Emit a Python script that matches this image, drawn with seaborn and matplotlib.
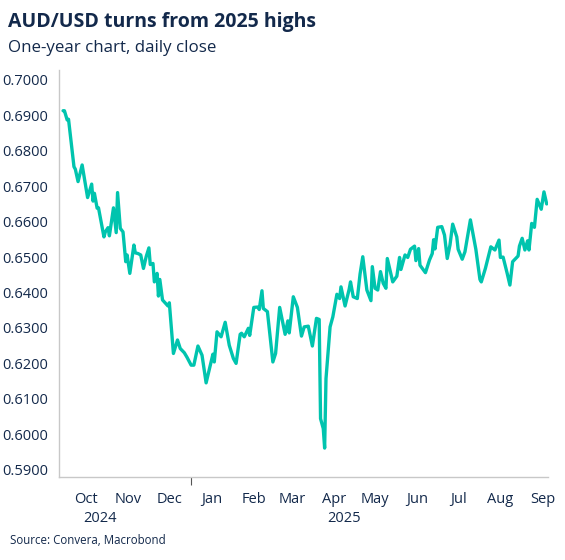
import pandas as pd
import matplotlib.pyplot as plt
import matplotlib.dates as mdates
import matplotlib.transforms as mtransforms
import seaborn as sns

# AUD/USD daily close
dates = [
    "2024-09-29", "2024-09-30", "2024-10-02", "2024-10-03", "2024-10-07", "2024-10-08",
    "2024-10-10", "2024-10-13", "2024-10-17", "2024-10-20", "2024-10-21", "2024-10-22",
    "2024-10-24", "2024-10-25", "2024-10-29", "2024-10-30", "2024-11-01", "2024-11-02",
    "2024-11-05", "2024-11-07", "2024-11-08", "2024-11-10", "2024-11-12", "2024-11-14",
    "2024-11-15", "2024-11-17", "2024-11-20", "2024-11-21", "2024-11-23", "2024-11-25",
    "2024-11-27", "2024-11-29", "2024-12-01", "2024-12-02", "2024-12-04", "2024-12-05",
    "2024-12-07", "2024-12-08", "2024-12-09", "2024-12-11", "2024-12-15", "2024-12-16",
    "2024-12-19", "2024-12-22", "2024-12-24", "2024-12-27", "2024-12-29", "2025-01-01",
    "2025-01-03", "2025-01-06", "2025-01-09", "2025-01-12", "2025-01-17", "2025-01-18",
    "2025-01-20", "2025-01-23", "2025-01-26", "2025-01-29", "2025-02-01", "2025-02-03",
    "2025-02-06", "2025-02-07", "2025-02-09", "2025-02-12", "2025-02-13", "2025-02-16",
    "2025-02-19", "2025-02-20", "2025-02-22", "2025-02-23", "2025-02-26", "2025-03-02",
    "2025-03-04", "2025-03-07", "2025-03-11", "2025-03-13", "2025-03-14", "2025-03-17",
    "2025-03-20", "2025-03-23", "2025-03-25", "2025-03-28", "2025-03-31", "2025-04-03",
    "2025-04-05", "2025-04-06", "2025-04-08", "2025-04-09", "2025-04-10", "2025-04-13",
    "2025-04-15", "2025-04-18", "2025-04-20", "2025-04-21", "2025-04-24", "2025-04-27",
    "2025-04-28", "2025-04-30", "2025-05-03", "2025-05-05", "2025-05-07", "2025-05-10",
    "2025-05-13", "2025-05-14", "2025-05-16", "2025-05-18", "2025-05-20", "2025-05-22",
    "2025-05-24", "2025-05-25", "2025-05-29", "2025-06-01", "2025-06-03", "2025-06-04",
    "2025-06-07", "2025-06-09", "2025-06-11", "2025-06-14", "2025-06-15", "2025-06-17",
    "2025-06-18", "2025-06-22", "2025-06-25", "2025-06-27", "2025-06-28", "2025-06-29",
    "2025-07-01", "2025-07-04", "2025-07-06", "2025-07-08", "2025-07-10", "2025-07-12",
    "2025-07-15", "2025-07-16", "2025-07-19", "2025-07-21", "2025-07-25", "2025-07-29",
    "2025-08-01", "2025-08-02", "2025-08-05", "2025-08-09", "2025-08-12", "2025-08-15",
    "2025-08-16", "2025-08-18", "2025-08-21", "2025-08-23", "2025-08-25", "2025-08-29",
    "2025-08-30", "2025-09-01", "2025-09-03", "2025-09-05", "2025-09-06", "2025-09-08",
    "2025-09-10", "2025-09-12", "2025-09-15", "2025-09-17", "2025-09-19",
]
audusd = [
    0.6913, 0.6913, 0.6887, 0.6889, 0.6755, 0.6748,
    0.6713, 0.6760, 0.6668, 0.6706, 0.6658, 0.6680,
    0.6638, 0.6639, 0.6557, 0.6571, 0.6583, 0.6560,
    0.6639, 0.6569, 0.6682, 0.6581, 0.6571, 0.6487,
    0.6506, 0.6454, 0.6534, 0.6512, 0.6510, 0.6506,
    0.6468, 0.6501, 0.6526, 0.6479, 0.6482, 0.6430,
    0.6454, 0.6390, 0.6437, 0.6379, 0.6362, 0.6371,
    0.6228, 0.6266, 0.6242, 0.6230, 0.6217, 0.6195,
    0.6195, 0.6249, 0.6223, 0.6145, 0.6226, 0.6204,
    0.6289, 0.6275, 0.6316, 0.6251, 0.6214, 0.6200,
    0.6282, 0.6285, 0.6275, 0.6299, 0.6279, 0.6358,
    0.6359, 0.6352, 0.6405, 0.6355, 0.6346, 0.6204,
    0.6228, 0.6358, 0.6282, 0.6320, 0.6286, 0.6388,
    0.6358, 0.6277, 0.6303, 0.6305, 0.6249, 0.6327,
    0.6324, 0.6044, 0.6016, 0.5961, 0.6157, 0.6303,
    0.6331, 0.6395, 0.6383, 0.6416, 0.6362, 0.6409,
    0.6430, 0.6388, 0.6383, 0.6452, 0.6501, 0.6407,
    0.6377, 0.6473, 0.6412, 0.6407, 0.6459, 0.6426,
    0.6412, 0.6496, 0.6430, 0.6446, 0.6499, 0.6465,
    0.6506, 0.6499, 0.6522, 0.6531, 0.6490, 0.6524,
    0.6477, 0.6456, 0.6492, 0.6510, 0.6549, 0.6523,
    0.6584, 0.6586, 0.6562, 0.6496, 0.6534, 0.6593,
    0.6557, 0.6522, 0.6494, 0.6515, 0.6605, 0.6522,
    0.6437, 0.6430, 0.6468, 0.6529, 0.6520, 0.6548,
    0.6499, 0.6500, 0.6454, 0.6421, 0.6487, 0.6503,
    0.6531, 0.6553, 0.6520, 0.6546, 0.6520, 0.6595,
    0.6584, 0.6663, 0.6635, 0.6684, 0.6650,
]
yticks = [0.59, 0.60, 0.61, 0.62, 0.63, 0.64, 0.65, 0.66, 0.67, 0.68, 0.69, 0.70]
year_labels = ["2024", "2025"]
year_pos = ["2024-10-26", "2025-04-23"]

df = pd.DataFrame({"date": pd.to_datetime(dates), "close": audusd})

navy = "#13294b"
grey = "#c8c8c8"
sns.set_style("white")
plt.rcParams["font.family"] = ["Open Sans", "DejaVu Sans"]

fig = plt.figure(figsize=(5.65, 5.6), dpi=100)
ax = fig.add_axes([0.1044, 0.148, 0.8656, 0.727])

sns.lineplot(data=df, x="date", y="close", ax=ax, color="#00c4ae", linewidth=2.4)

ax.set_xlim(pd.Timestamp("2024-09-26"), pd.Timestamp("2025-09-20"))
ax.set_ylim(0.5879, 0.7028)
ax.set_yticks(yticks)
ax.set_yticklabels([f"{v:.4f}" for v in yticks])
ax.set_xlabel("")
ax.set_ylabel("")

# month ticks at month starts, labels centred mid-month
ax.xaxis.set_minor_locator(mdates.MonthLocator())
ax.xaxis.set_major_locator(mdates.MonthLocator(bymonthday=16))
ax.xaxis.set_major_formatter(mdates.DateFormatter("%b"))
ax.tick_params(axis="x", which="major", length=0, pad=11, labelsize=10.5, labelcolor=navy)
ax.tick_params(axis="x", which="minor", length=3, width=0.8, color="#555555", direction="out")
ax.tick_params(axis="y", length=5, width=0.8, color="#999999", pad=3, labelsize=10.5, labelcolor=navy)

# longer tick at the year boundary
sec = ax.secondary_xaxis("bottom")
sec.set_xticks([pd.Timestamp("2025-01-01")])
sec.set_xticklabels([""])
sec.tick_params(length=6, width=0.8, color="#555555")
sec.spines["bottom"].set_visible(False)

for s in ["top", "right"]:
    ax.spines[s].set_visible(False)
for s in ["left", "bottom"]:
    ax.spines[s].set_color(grey)
    ax.spines[s].set_linewidth(1)

trans = mtransforms.blended_transform_factory(ax.transData, fig.transFigure)
for lab, pos in zip(year_labels, year_pos):
    ax.text(pd.Timestamp(pos), 1 - 518 / 560, lab, transform=trans,
            ha="center", va="center", fontsize=10.5, color=navy)

fig.text(8 / 565, 1 - 22 / 560, "AUD/USD turns from 2025 highs", fontsize=14,
         fontweight="bold", color=navy, va="center", ha="left")
fig.text(8 / 565, 1 - 48 / 560, "One-year chart, daily close", fontsize=12.2,
         color=navy, va="center", ha="left")
fig.text(10 / 565, 1 - 541 / 560, "Source: Convera, Macrobond", fontsize=8.3,
         color=navy, va="center", ha="left")

fig.savefig("out.png", dpi=100)
